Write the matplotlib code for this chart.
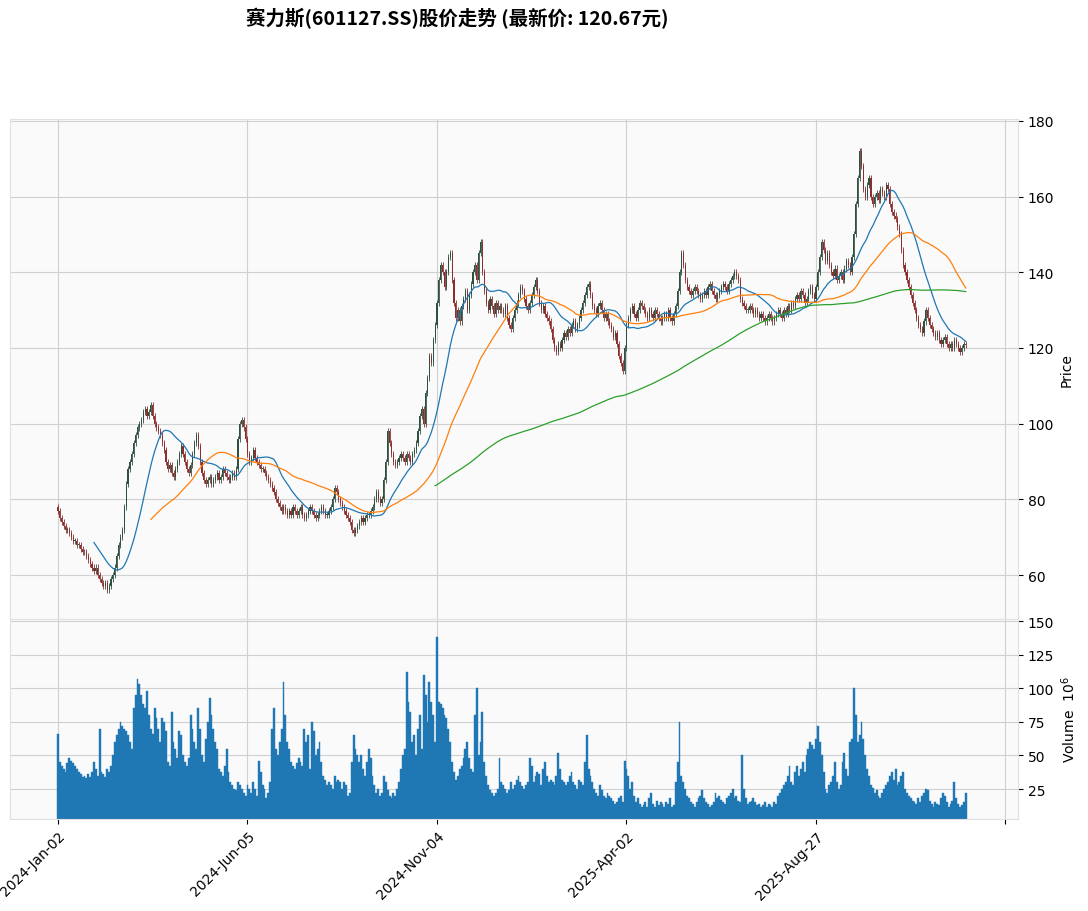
import matplotlib
matplotlib.use("Agg")
import matplotlib.pyplot as plt
import numpy as np

plt.rcParams['font.family'] = ['DejaVu Sans']

title = "赛力斯(601127.SS)股价走势 (最新价: 120.67元)"
tick_labels = ["2024-Jan-02", "2024-Jun-05", "2024-Nov-04", "2025-Apr-02", "2025-Aug-27", ""]
tick_pos = [0, 100, 200, 300, 400, 500]

close = [77,75,74,73,72,72,71,70,69,69, 68,68,67,66,66,65,64,63,62,61, 62,60,59,58,57,58,56,57,59,60,
 62,65,68,70,72,78,84,88,90,92, 95,97,99,100,101,
 103,104,102,103,105,102,100,99,98,97,
 95,93,90,88,89,87,86,88,90,92, 94,92,90,88,87,89,92,95,97,94,
 90,87,85,84,85,86,84,85,86,87, 85,86,88,87,86,85,86,87,86,88,
 96,100,101,99,96,92,90,91,93,91,
 90,89,88,88,87,86,85,84,83,82, 80,79,78,77,78,77,76,77,76,78,
 77,76,77,78,76,75,76,77,78,77, 76,75,76,77,78,77,76,76,77,78, 80,83,82,80,79,
 78,77,76,75,74,72,71,72,73,74, 75,74,75,76,76,
 77,78,80,82,80,79,80,85,90,98, 95,92,90,89,90,91,92,91,90,92, 91,90,92,93,95,
 98,102,104,100,108,112,118,116,122,126,
 132,138,142,140,136,140,144,145,138,132, 128,130,127,131,133,135,130,134,137,140,
 142,138,145,148,140,135,132,130,133,131, 129,132,130,131,130,
 129,131,128,126,125,128,130,132,134,136, 135,133,131,130,132,134,136,138,135,132, 130,131,129,128,127,
 125,122,120,119,121,120,122,124,123,125, 124,126,127,125,126,
 128,130,132,134,136,137,134,131,130,129, 131,132,130,128,129,127,126,125,123,124,
 121,118,116,114,120,
 126,128,130,131,129,128,130,132,131,130, 129,128,130,129,128,130,129,128,127,128,
 129,128,130,128,127,129,131,135,140,145,
 142,138,136,135,134,135,136,135,134,133, 134,135,134,136,137,135,134,133,134,135, 136,137,136,135,137,138,139,140,139,138,
 133,132,131,130,130,131,130,129,130,129, 128,129,128,127,128,129,128,127,128,129,
 130,129,128,130,129,131,130,132,131,133, 134,133,135,134,132,133,135,136,134,133,
 136,140,144,148,146,143,145,142,140,139,
 141,138,139,140,138,141,143,142,140,144,
 150,158,165,172,168,162,160,163,165,160,
 158,160,161,159,162,161,160,163,162,158, 156,155,154,152,150,
 146,142,140,138,136,134,132,130,128,126, 125,124,127,130,128,
 126,125,124,123,124,122,121,122,123,121, 120,121,120,122,121,120,119,120,121,120.67]

volume = [66,45,42,40,38,44,48,46,44,42, 40,38,36,34,35,33,36,34,38,45, 40,35,70,38,36,34,40,38,42,50,
 60,65,70,75,72,70,68,65,60,55, 85,95,107,103,95,88,85,98,80,70, 66,85,78,70,60,78,75,68,45,42,
 82,60,55,48,68,65,50,45,42,48, 80,70,60,55,85,70,50,45,62,75, 93,80,70,60,55,40,38,35,42,55,
 38,30,28,25,24,30,28,25,22,20, 28,25,22,30,25,20,46,38,28,25, 18,22,30,70,85,55,50,60,70,105,
 80,60,55,45,42,40,44,48,45,42, 70,60,65,40,75,68,50,55,60,45, 35,32,28,30,28,25,35,30,32,30,
 25,30,28,20,22,45,65,55,50,45, 50,40,35,45,55,48,35,28,22,25, 20,22,35,30,24,20,18,22,20,25,
 30,40,50,55,112,90,82,60,65,50, 70,80,55,110,95,75,105,90,80,60, 138,90,88,85,80,78,70,60,45,38,
 32,35,40,42,48,55,60,48,40,38, 80,100,50,60,82,45,35,28,24,22, 20,22,25,48,30,28,25,22,24,30,
 25,28,32,35,30,27,25,28,30,48, 42,30,35,38,36,28,40,45,35,30, 32,30,28,35,52,40,32,30,28,30,
 35,38,30,28,25,32,30,28,45,65, 40,35,30,25,22,20,28,24,20,18, 22,20,18,16,14,15,18,20,15,46,
 40,35,25,30,20,15,18,14,12,13, 15,12,18,22,14,12,16,13,15,14, 12,15,14,18,12,13,30,45,75,35,
 30,25,20,18,15,14,12,15,18,20, 24,18,15,14,12,13,15,22,18,20, 17,15,14,18,20,22,25,18,20,16,
 15,50,25,18,14,15,16,18,15,13, 14,12,13,15,12,14,13,12,15,14, 20,22,25,28,30,35,42,30,28,38,
 42,35,40,45,38,50,55,60,58,55, 62,72,60,50,38,25,22,28,30,35, 45,30,25,28,45,52,40,35,60,62,
 100,80,60,65,75,62,50,40,35,28, 26,22,24,20,18,22,25,28,30,35, 38,32,40,28,30,35,38,25,22,20,
 18,16,15,14,18,15,20,22,25,24, 16,14,12,15,14,13,18,22,20,15, 12,14,16,30,18,14,12,13,15,22]

mav = (20, 50, 200)
mav_colors = ['#1f77b4', '#ff7f0e', '#2ca02c']

close = np.array(close, float)
n = len(close)
opn = np.concatenate([[close[0] + 1.0], close[:-1]])
idx = np.arange(n)

fig = plt.figure(figsize=(10.88, 9.12), dpi=100)
ax = fig.add_axes([10/1088, 1-620/912, 1008/1088, 500/912])
axv = fig.add_axes([10/1088, 1-820/912, 1008/1088, 200/912], sharex=ax)
for a in (ax, axv):
    a.set_facecolor('#fafafa')
    a.grid(True, color='#d0d0d0', linewidth=0.8)
    a.set_axisbelow(True)
    for s in a.spines.values():
        s.set_color('#e0e0e0')
    a.yaxis.tick_right()
    a.yaxis.set_label_position('right')

up_c, dn_c = '#2f4f3f', '#8b2e2e'
for i in range(n):
    o, c = opn[i], close[i]
    col = up_c if c >= o else dn_c
    hi = max(o, c) + 0.8
    lo = min(o, c) - 0.8
    ax.vlines(i, lo, hi, color=col, linewidth=0.6)
    h = abs(c - o) if abs(c - o) > 0.2 else 0.2
    ax.bar(i, h, bottom=min(o, c), width=0.6, color=col, linewidth=0)

for m, col in zip(mav, mav_colors):
    ma = np.convolve(close, np.ones(m)/m, mode='valid')
    ax.plot(idx[m-1:], ma, color=col, linewidth=0.9)

axv.bar(idx, volume, width=1.0, color='#1f77b4', edgecolor='#1f77b4', linewidth=0.3)

ax.set_xlim(-25.3, 506.6)
ax.set_ylim(48.4, 180.5)
axv.set_ylim(2.7, 151.5)
ax.set_yticks([60, 80, 100, 120, 140, 160, 180])
axv.set_yticks([25, 50, 75, 100, 125, 150])
ax.set_ylabel('Price', fontsize=10)
axv.set_ylabel('Volume  $10^6$', fontsize=10)
plt.setp(ax.get_xticklabels(), visible=False)
ax.tick_params(axis='x', length=0)
axv.set_xticks(tick_pos)
axv.set_xticklabels(tick_labels, rotation=45, ha='right', rotation_mode='anchor', fontsize=10)
for a in (ax, axv):
    a.tick_params(axis='y', labelsize=10)

fig.text(0.42, 0.98, title, ha='center', va='center', fontsize=14, fontweight='bold',
         family=['Noto Sans CJK SC', 'DejaVu Sans'])
fig.savefig('out.png', dpi=100)
